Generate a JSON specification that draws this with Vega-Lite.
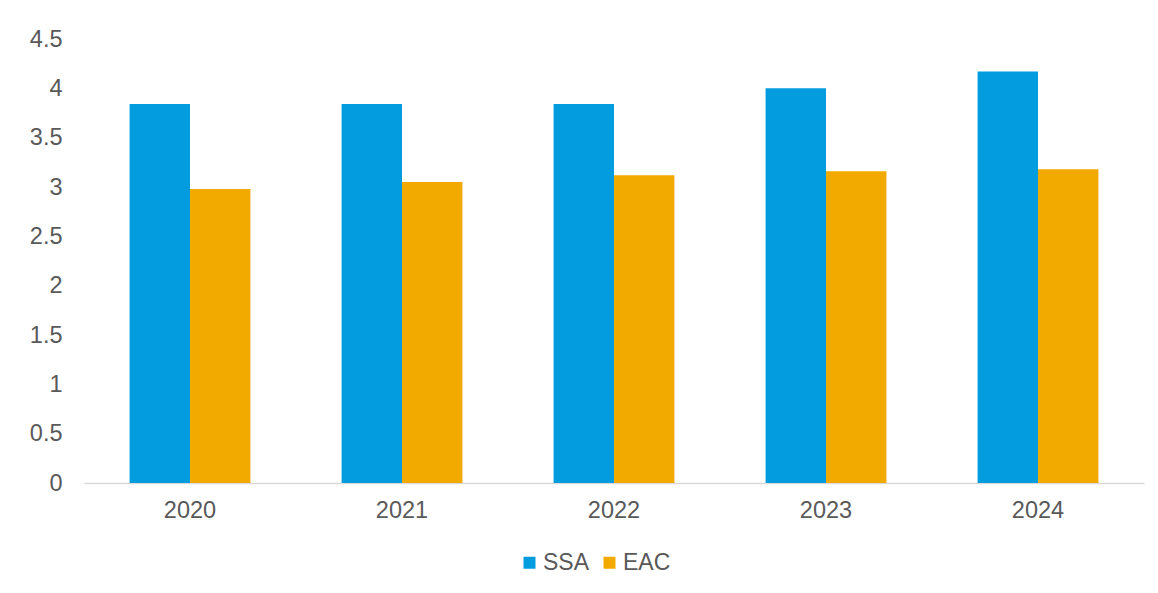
{
  "$schema": "https://vega.github.io/schema/vega-lite/v6.json",
  "autosize": {"type": "none"},
  "padding": {"left": 84, "top": 39, "right": 14, "bottom": 110},
  "width": 1060,
  "height": 444,
  "background": "white",
  "config": {
    "view": {"stroke": null},
    "font": "Liberation Sans"
  },
  "data": {
    "values": [
      {"year": "2020", "series": "SSA", "value": 3.84},
      {"year": "2020", "series": "EAC", "value": 2.98},
      {"year": "2021", "series": "SSA", "value": 3.84},
      {"year": "2021", "series": "EAC", "value": 3.05},
      {"year": "2022", "series": "SSA", "value": 3.84},
      {"year": "2022", "series": "EAC", "value": 3.12},
      {"year": "2023", "series": "SSA", "value": 4.0},
      {"year": "2023", "series": "EAC", "value": 3.16},
      {"year": "2024", "series": "SSA", "value": 4.17},
      {"year": "2024", "series": "EAC", "value": 3.18}
    ]
  },
  "mark": {"type": "bar"},
  "encoding": {
    "x": {
      "field": "year",
      "type": "nominal",
      "scale": {"paddingInner": 0.43, "paddingOuter": 0.215},
      "axis": {
        "title": null,
        "labelAngle": 0,
        "labelFontSize": 23.5,
        "labelColor": "#595959",
        "labelPadding": 15,
        "ticks": false,
        "domainColor": "#d9d9d9",
        "domainWidth": 1.5,
        "grid": false
      }
    },
    "xOffset": {
      "field": "series",
      "type": "nominal",
      "scale": {"domain": ["SSA", "EAC"], "paddingInner": 0, "paddingOuter": 0}
    },
    "y": {
      "field": "value",
      "type": "quantitative",
      "scale": {"domain": [0, 4.5], "nice": false},
      "axis": {
        "title": null,
        "values": [0, 0.5, 1, 1.5, 2, 2.5, 3, 3.5, 4, 4.5],
        "format": "~g",
        "labelFontSize": 23.5,
        "labelColor": "#595959",
        "labelPadding": 22,
        "ticks": false,
        "domain": false,
        "grid": false
      }
    },
    "color": {
      "field": "series",
      "type": "nominal",
      "scale": {"domain": ["SSA", "EAC"], "range": ["#039ddf", "#f2aa00"]},
      "legend": {
        "title": null,
        "orient": "none",
        "direction": "horizontal",
        "legendX": 434,
        "legendY": 512,
        "symbolType": "square",
        "symbolSize": 144,
        "symbolStrokeWidth": 0,
        "labelFontSize": 23,
        "labelColor": "#595959",
        "labelOffset": 2,
        "columnPadding": 8
      }
    }
  }
}
